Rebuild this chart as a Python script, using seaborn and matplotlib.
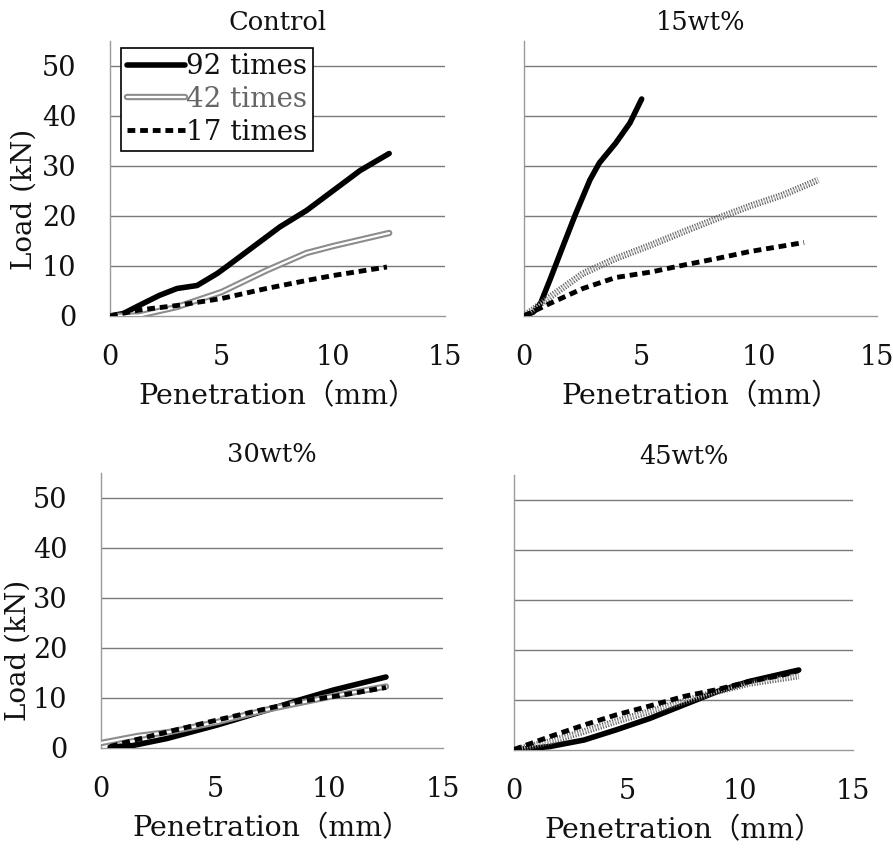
import numpy as np
import pandas as pd
import matplotlib
matplotlib.use("Agg")
import matplotlib.pyplot as plt
import matplotlib.patheffects as pe
from matplotlib.lines import Line2D
import seaborn as sns

# ---------------- data ----------------
panels = ["Control", "15wt%", "30wt%", "45wt%"]
series_labels = ["92 times", "42 times", "17 times"]

control_92_x = [0, 0.6, 1.3, 2.2, 3.0, 3.9, 4.8, 5.2, 6.4, 7.6, 8.8, 10.0, 11.2, 12.5]
control_92_y = [0, 0.5, 2.1, 4.1, 5.5, 6.1, 8.5, 9.8, 13.8, 17.8, 21.1, 25.1, 29.1, 32.5]
control_42_x = [0, 1.3, 3.0, 5.0, 7.0, 8.8, 10.0, 12.5]
control_42_y = [0, 0.1, 1.8, 4.8, 9.1, 12.6, 14.0, 16.6]
control_17_x = [0, 1.3, 3.0, 5.0, 7.0, 8.8, 10.0, 12.4]
control_17_y = [0, 1.2, 2.1, 3.5, 5.5, 7.1, 8.1, 9.8]

wt15_92_x = [0, 0.4, 0.7, 1.1, 1.7, 2.2, 2.8, 3.2, 3.9, 4.5, 5.0]
wt15_92_y = [0, 0.8, 2.5, 7.2, 14.5, 20.5, 27.2, 30.6, 34.6, 38.6, 43.4]
wt15_42_x = [0, 1.1, 2.5, 3.9, 5.4, 6.8, 8.2, 9.6, 11.0, 12.5]
wt15_42_y = [0, 3.8, 8.5, 11.5, 14.2, 16.9, 19.5, 22.0, 24.2, 27.2]
wt15_17_x = [0, 1.1, 2.5, 3.9, 5.4, 6.8, 8.2, 9.6, 11.9]
wt15_17_y = [0, 2.5, 5.5, 7.7, 8.8, 10.2, 11.5, 12.9, 14.7]

wt30_92_x = [0.4, 1.4, 2.9, 5.1, 7.3, 8.7, 10.2, 12.5]
wt30_92_y = [0.2, 0.5, 1.9, 4.6, 7.6, 9.6, 11.6, 14.2]
wt30_42_x = [0, 1.6, 3.0, 5.1, 7.3, 10.2, 12.5]
wt30_42_y = [1.0, 2.4, 3.2, 5.2, 7.7, 10.4, 12.3]
wt30_17_x = [0.4, 1.4, 2.9, 5.1, 7.3, 8.7, 10.2, 12.5]
wt30_17_y = [0.3, 1.5, 3.2, 5.6, 7.9, 9.3, 10.3, 12.1]

wt45_92_x = [0, 1.6, 3.1, 4.5, 6.0, 7.5, 9.0, 10.4, 12.6]
wt45_92_y = [0, 0.7, 2.0, 4.0, 6.3, 9.0, 11.7, 13.7, 16.0]
wt45_42_x = [0, 1.6, 3.1, 4.5, 6.0, 7.5, 9.0, 10.4, 12.6]
wt45_42_y = [0, 1.7, 3.7, 5.7, 7.7, 9.7, 11.7, 13.3, 14.8]
wt45_17_x = [0, 1.6, 3.1, 4.5, 6.0, 7.5, 9.0, 10.4, 11.9, 12.6]
wt45_17_y = [0.1, 2.7, 5.0, 7.0, 8.8, 10.7, 12.1, 13.7, 15.0, 15.9]

x_ticks = [0, 5, 10, 15]
y_ticks = [0, 10, 20, 30, 40, 50]
x_label = "Penetration（mm）"
y_label = "Load (kN)"

data = {
    "Control": [(control_92_x, control_92_y), (control_42_x, control_42_y), (control_17_x, control_17_y)],
    "15wt%": [(wt15_92_x, wt15_92_y), (wt15_42_x, wt15_42_y), (wt15_17_x, wt15_17_y)],
    "30wt%": [(wt30_92_x, wt30_92_y), (wt30_42_x, wt30_42_y), (wt30_17_x, wt30_17_y)],
    "45wt%": [(wt45_92_x, wt45_92_y), (wt45_42_x, wt45_42_y), (wt45_17_x, wt45_17_y)],
}

# ---------------- style ----------------
sns.set_style("white")
plt.rcParams["font.family"] = ["DejaVu Serif", "Noto Sans CJK JP"]
plt.rcParams["axes.unicode_minus"] = False
plt.rcParams["text.color"] = "#111111"
plt.rcParams["axes.labelcolor"] = "#111111"
plt.rcParams["xtick.labelcolor"] = "#111111"
plt.rcParams["ytick.labelcolor"] = "#111111"

W, H = 893, 848
fig = plt.figure(figsize=(W / 100, H / 100), dpi=100)

# axes rectangles in pixels: (x at 0, x at 15, y at 0, y at 55)
rects = {
    "Control": (110, 445, 316, 41),
    "15wt%": (524, 877, 316, 41),
    "30wt%": (101, 443, 748, 473),
    "45wt%": (514, 853, 750, 475),
}

GRID = "#7a7a7a"
FS = 19.5
double_fx = [pe.Stroke(linewidth=4.6, foreground="#8c8c8c"), pe.Normal()]
dotted_fx = [pe.Stroke(linewidth=4.8, foreground="#5e5e5e"), pe.Normal()]

for name in panels:
    x0, x1, y0, y1 = rects[name]
    ax = fig.add_axes([x0 / W, 1 - y0 / H, (x1 - x0) / W, (y0 - y1) / H])
    (a_x, a_y), (b_x, b_y), (c_x, c_y) = data[name]

    df92 = pd.DataFrame({"x": a_x, "y": a_y})
    df42 = pd.DataFrame({"x": b_x, "y": b_y})
    df17 = pd.DataFrame({"x": c_x, "y": c_y})

    sns.lineplot(data=df92, x="x", y="y", ax=ax, color="black", lw=4.0,
                 sort=False, estimator=None, solid_capstyle="round",
                 solid_joinstyle="round", zorder=3)
    if name in ("Control", "30wt%"):
        sns.lineplot(data=df42, x="x", y="y", ax=ax, color="white", lw=1.6,
                     sort=False, estimator=None, path_effects=double_fx,
                     solid_capstyle="round", zorder=4)
    else:
        sns.lineplot(data=df42, x="x", y="y", ax=ax, color="#bdbdbd", lw=1.8,
                     ls=(0, (0.45, 0.6)), sort=False, estimator=None,
                     path_effects=dotted_fx, zorder=4)
    sns.lineplot(data=df17, x="x", y="y", ax=ax, color="black", lw=3.5,
                 ls=(0, (1.6, 1.0)), sort=False, estimator=None, zorder=5)

    ax.set_xlim(0, 15)
    ax.set_ylim(0, 55)
    ax.set_xticks(x_ticks)
    ax.set_yticks(y_ticks)
    for yv in y_ticks[1:]:
        ax.axhline(yv, color=GRID, lw=1.0, zorder=1)
    for s in ("top", "right"):
        ax.spines[s].set_visible(False)
    for s in ("left", "bottom"):
        ax.spines[s].set_color("#9a9a9a")
        ax.spines[s].set_linewidth(1.0)
    ax.tick_params(axis="x", direction="in", length=6, width=1.0, color="#8a8a8a",
                   labelsize=FS, pad=20)
    ax.tick_params(axis="y", direction="out", length=6, width=1.0, color="#8a8a8a",
                   labelsize=FS, pad=18)
    ax.set_xlabel(x_label, fontsize=20.5, labelpad=9)
    if name in ("Control", "30wt%"):
        ax.set_ylabel(y_label, fontsize=20)
        if name == "Control":
            ax.yaxis.set_label_coords(-0.215, 0.425)
        else:
            ax.yaxis.set_label_coords(-0.204, 0.356)
    else:
        ax.set_ylabel("")
        ax.tick_params(axis="y", labelleft=False)
    ax.set_title(name, fontsize=18.5, pad=8)
    ax.set_facecolor("white")

    if name == "Control":
        handles = [
            Line2D([], [], color="black", lw=4.0),
            Line2D([], [], color="white", lw=1.6, path_effects=double_fx),
            Line2D([], [], color="black", lw=3.5, ls=(0, (1.6, 1.0))),
        ]
        leg = ax.legend(handles, series_labels, loc="upper left",
                        bbox_to_anchor=(0.033, 0.975), borderaxespad=0,
                        frameon=True, fancybox=False, edgecolor="black",
                        fontsize=20, handlelength=2.1, handletextpad=0.05,
                        borderpad=0.2, labelspacing=0.2)
        leg.get_frame().set_linewidth(1.2)
        leg.get_frame().set_alpha(1)
        leg.get_texts()[1].set_color("#666666")
        leg.set_zorder(10)

fig.savefig("out.png", dpi=100, facecolor="white")
